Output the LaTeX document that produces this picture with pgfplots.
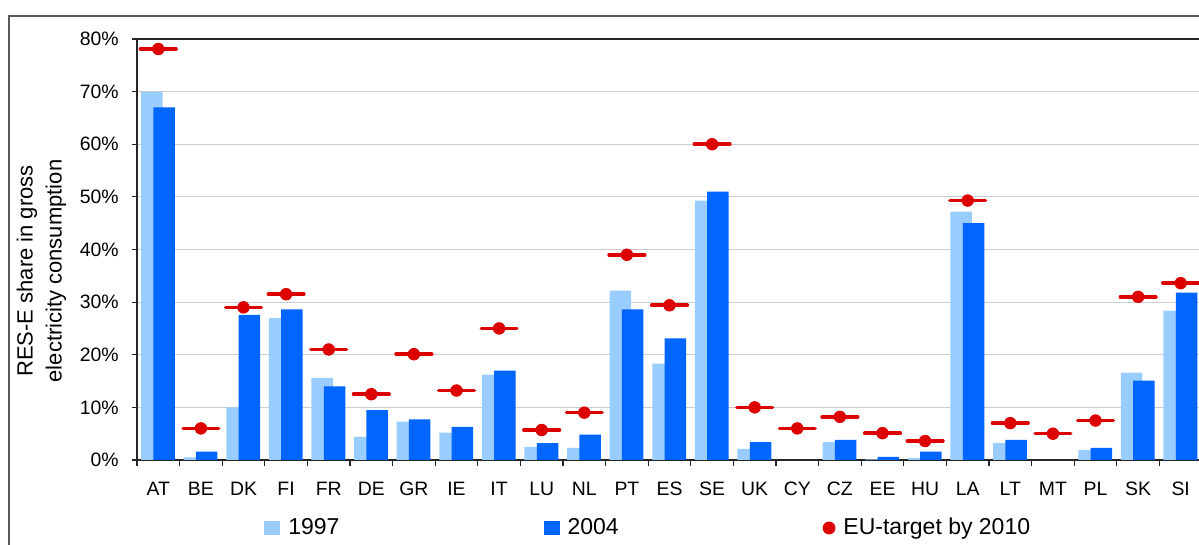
\documentclass[border=0pt]{standalone}
\usepackage{pgfplots}
\usepackage{pgfplotstable}
\pgfplotsset{compat=1.18}
\usepackage{fontspec}
\setmainfont{Liberation Sans}
\definecolor{cA}{RGB}{153,204,255}
\definecolor{cB}{RGB}{0,102,255}
\definecolor{cT}{RGB}{220,0,0}
\definecolor{cGrid}{RGB}{204,204,204}
\definecolor{cFrame}{RGB}{90,90,90}

\pgfplotstableread{
x  v97   v04   t
0  70.0  67.0  78.1
1  0.5   1.6   6.0
2  10.0  27.6  29.0
3  27.0  28.6  31.5
4  15.6  14.0  21.0
5  4.4   9.5   12.5
6  7.3   7.7   20.1
7  5.2   6.3   13.2
8  16.2  17.0  25.0
9  2.5   3.2   5.7
10 2.3   4.8   9.0
11 32.2  28.6  39.0
12 18.3  23.1  29.4
13 49.3  51.0  60.0
14 2.1   3.4   10.0
15 nan   nan   6.0
16 3.4   3.8   8.2
17 0.1   0.6   5.1
18 0.4   1.6   3.6
19 47.2  45.0  49.3
20 3.2   3.8   7.0
21 nan   nan   5.0
22 1.9   2.3   7.5
23 16.6  15.1  31.0
24 28.4  31.8  33.6
}\data

\begin{document}
\begin{tikzpicture}[x=1pt,y=1pt]
\path[use as bounding box] (0,0) rectangle (599.5,272.5);
\draw[line width=0.7pt, cFrame] (4.5,-5) -- (4.5,264.5) -- (610,264.5);
\begin{axis}[
  at={(68.5pt,42.5pt)}, anchor=south west,
  scale only axis, width=532.5pt, height=210.5pt,
  xmin=-0.5, xmax=24.5, ymin=0, ymax=80,
  axis x line*=bottom, axis y line*=left,
  axis line style={line width=0.8pt, black!85},
  tick align=outside,
  major tick length=2.5pt,
  xtick={0,...,24},
  xticklabels={AT,BE,DK,FI,FR,DE,GR,IE,IT,LU,NL,PT,ES,SE,UK,CY,CZ,EE,HU,LA,LT,MT,PL,SK,SI},
  major x tick style={draw=none},
  extra x ticks={-0.5,0.5,...,23.5},
  extra x tick labels={},
  extra x tick style={major tick length=3pt, major x tick style={draw=black!85, line width=0.6pt}},
  xticklabel style={font=\fontsize{9.7}{11}\selectfont, anchor=base, inner sep=0pt, yshift=-15.3pt},
  ytick={0,10,...,80},
  yticklabels={0\%,10\%,20\%,30\%,40\%,50\%,60\%,70\%,80\%},
  yticklabel style={font=\fontsize{9.7}{11}\selectfont, anchor=east, inner sep=0pt, xshift=-6.5pt},
  major y tick style={draw=black!85, line width=0.6pt},
  ymajorgrids, grid style={cGrid, line width=0.5pt},
  ylabel={RES-E share in gross\\electricity consumption},
  ylabel style={align=center, font=\fontsize{11}{14.5}\selectfont, at={(axis description cs:-0.0897,0.449)}, anchor=center},
  legend style={draw=none, fill=none, at={(axis description cs:0.1192,-0.1615)}, anchor=west,
    font=\fontsize{11.5}{13}\selectfont, inner sep=0pt, nodes={inner sep=0pt},
    /tikz/every odd column/.append style={column sep=4pt},
    /tikz/every even column/.append style={column sep=102pt}},
  legend columns=3,
  clip=false,
]
\addplot[ybar, bar width=10.75pt, bar shift=-3.25pt, fill=cA, draw=none,
  legend image code/.code={\fill[cA] (0pt,-3.7pt) rectangle (8pt,3.7pt);}] table[x=x,y=v97]{\data};
\addplot[ybar, bar width=10.75pt, bar shift=2.9pt, fill=cB, draw=none,
  legend image code/.code={\fill[cB] (0pt,-3.7pt) rectangle (8pt,3.7pt);}] table[x=x,y=v04]{\data};
\addplot[only marks, mark=-, mark size=8.9pt, mark options={line width=1.8pt, draw=cT, line cap=round}, forget plot] table[x=x,y=t]{\data};
\addplot[only marks, mark=*, mark size=2.9pt, mark options={fill=cT, draw=cT}, color=cT,
  legend image code/.code={\fill[cT] (3pt,0pt) circle (3pt);}] table[x=x,y=t]{\data};
\draw[line width=0.6pt, black!85] (rel axis cs:0,1) -- (rel axis cs:1,1);
\legend{1997,2004,EU-target by 2010}
\end{axis}
\end{tikzpicture}
\end{document}
